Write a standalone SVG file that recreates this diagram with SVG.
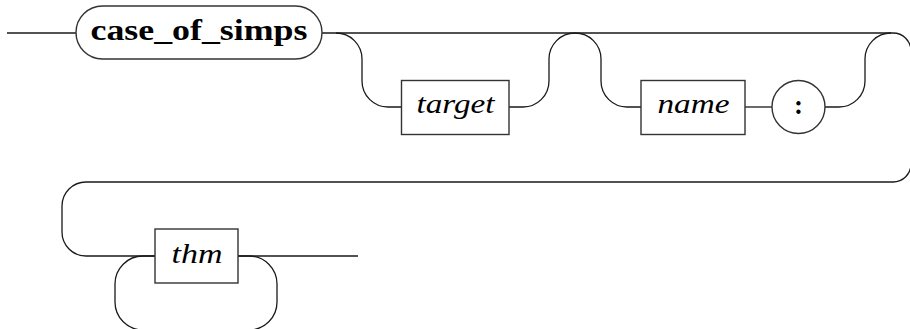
<svg xmlns="http://www.w3.org/2000/svg" width="910" height="329" viewBox="0 0 910 329">
<style>
.line{fill:none;stroke:#1a1a1a;stroke-width:1.3}
.box{fill:#fff;stroke:#333;stroke-width:1.4}
</style>
<rect width="910" height="329" fill="#fff"/>
<g id="connectors">
<path class="line" d="M7,33 H76"/>
<path class="line" d="M322,33 H893 A18,18 0 0 1 911,51 V164 A18,18 0 0 1 893,182 H86 A24,24 0 0 0 62,206 V232 A24,24 0 0 0 86,256 H155"/>
<path class="line" d="M336,33 A26,26 0 0 1 362,59 V81 A26,26 0 0 0 388,107 H401"/>
<path class="line" d="M509,107 H523 A26,26 0 0 0 549,81 V59 A26,26 0 0 1 575,33"/>
<path class="line" d="M575,33 A26,26 0 0 1 601,59 V81 A26,26 0 0 0 627,107 H641"/>
<path class="line" d="M745,107 H772"/>
<path class="line" d="M825,107 H839 A26,26 0 0 0 865,81 V59 A26,26 0 0 1 891,33"/>
<path class="line" d="M238,256 H358"/>
<path class="line" d="M155,256 H143 A28,28 0 0 0 115,284 V302 A28,28 0 0 0 143,330 H249 A28,28 0 0 0 277,302 V284 A28,28 0 0 0 249,256 H238"/>
</g>
<g id="case_of_simps">
<rect class="box" x="76" y="6" width="246" height="53" rx="26.5" ry="26.5"/>
<text x="199" y="40" font-family="Liberation Serif, DejaVu Serif, serif" font-weight="bold" font-size="30" fill="#000" text-anchor="middle" textLength="217" lengthAdjust="spacingAndGlyphs">case_of_simps</text>
</g>
<g id="target">
<rect class="box" x="401.5" y="80.5" width="107.5" height="54"/>
<text x="455.5" y="113" font-family="Liberation Serif, DejaVu Serif, serif" font-style="italic" font-size="28" fill="#000" text-anchor="middle" textLength="78" lengthAdjust="spacingAndGlyphs">target</text>
</g>
<g id="name">
<rect class="box" x="641" y="80.5" width="104" height="54"/>
<text x="693.5" y="113" font-family="Liberation Serif, DejaVu Serif, serif" font-style="italic" font-size="28" fill="#000" text-anchor="middle" textLength="72" lengthAdjust="spacingAndGlyphs">name</text>
</g>
<g id="colon">
<circle class="box" cx="798.5" cy="107" r="26.5"/>
<text x="798.5" y="113.5" font-family="Liberation Serif, DejaVu Serif, serif" font-weight="bold" font-size="27" fill="#000" text-anchor="middle">:</text>
</g>
<g id="thm">
<rect class="box" x="155" y="229" width="83" height="54"/>
<text x="197" y="263" font-family="Liberation Serif, DejaVu Serif, serif" font-style="italic" font-size="28" fill="#000" text-anchor="middle" textLength="51" lengthAdjust="spacingAndGlyphs">thm</text>
</g>
</svg>
